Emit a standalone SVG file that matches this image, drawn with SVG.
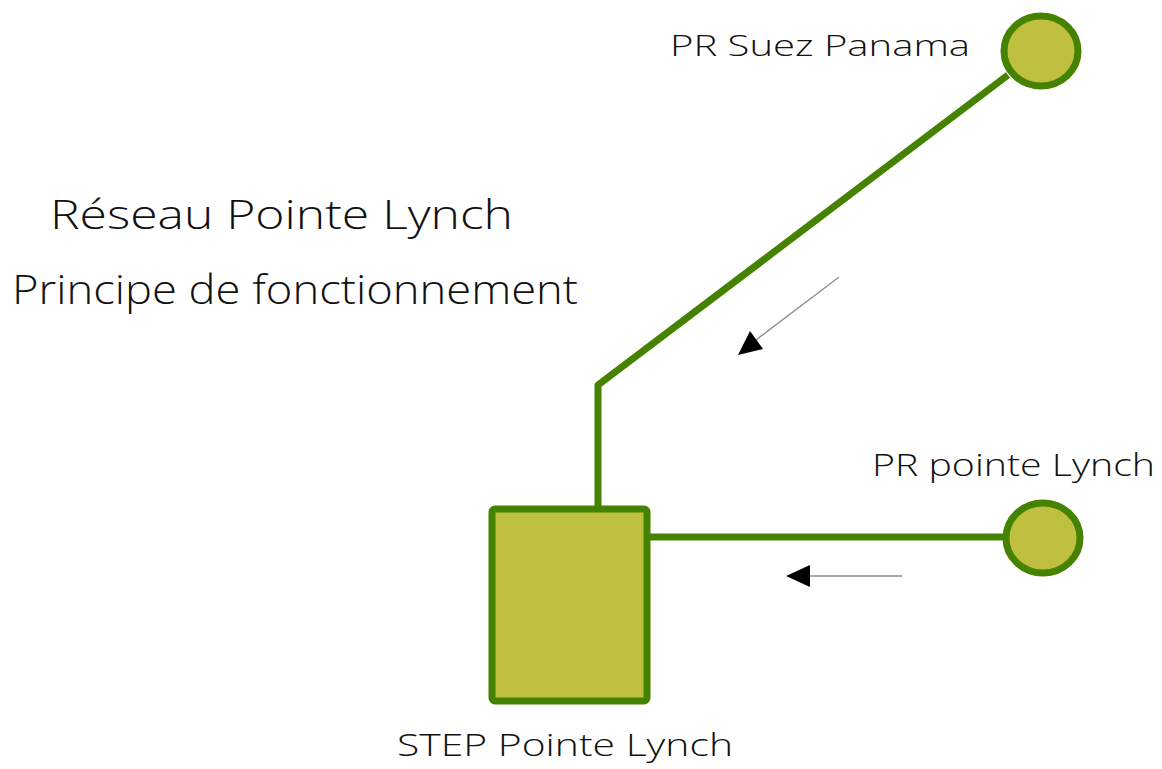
<svg xmlns="http://www.w3.org/2000/svg" width="1162" height="769" viewBox="0 0 1162 769">
  <style>
    .pipe { fill: none; stroke: #448200; stroke-width: 7; stroke-linejoin: round; }
    .node { fill: #bfc040; stroke: #448200; stroke-width: 7; }
    .flow { fill: none; stroke: #8c8c8c; stroke-width: 1.3; }
    .head { fill: #000; }
    .lbl { font-family: "Open Sans", "DejaVu Sans", sans-serif; font-weight: 300; fill: #111; }
  </style>
  <rect width="1162" height="769" fill="#fff"/>

  <!-- title -->
  <g id="title">
    <text class="lbl" x="50" y="229" font-size="40" textLength="463" lengthAdjust="spacingAndGlyphs">Réseau Pointe Lynch</text>
    <text class="lbl" x="12" y="304" font-size="40" textLength="566" lengthAdjust="spacingAndGlyphs">Principe de fonctionnement</text>
  </g>

  <!-- pipes -->
  <g id="connectors">
    <polyline class="pipe" points="1008,75 598,385 598,510"/>
    <line class="pipe" x1="647" y1="537" x2="1008" y2="537"/>
    <!-- flow direction arrows -->
    <line class="flow" x1="839" y1="277" x2="752" y2="343"/>
    <polygon class="head" points="738,355 750,331 763,349"/>
    <line class="flow" x1="902" y1="576" x2="808" y2="576"/>
    <polygon class="head" points="786,576 810,565 810,587"/>
  </g>

  <!-- pumping station, Suez Panama -->
  <g id="pr-suez-panama">
    <ellipse class="node" cx="1041" cy="51" rx="37" ry="35"/>
    <text class="lbl" x="670" y="56" font-size="29" textLength="300" lengthAdjust="spacingAndGlyphs">PR Suez Panama</text>
  </g>

  <!-- pumping station, pointe Lynch -->
  <g id="pr-pointe-lynch">
    <ellipse class="node" cx="1043" cy="538" rx="37" ry="35"/>
    <text class="lbl" x="872" y="476" font-size="31" textLength="283" lengthAdjust="spacingAndGlyphs">PR pointe Lynch</text>
  </g>

  <!-- treatment plant -->
  <g id="step-pointe-lynch">
    <rect class="node" x="492" y="509" width="155" height="192" rx="3" stroke-width="8"/>
    <text class="lbl" x="397" y="756" font-size="31" textLength="336" lengthAdjust="spacingAndGlyphs">STEP Pointe Lynch</text>
  </g>
</svg>
